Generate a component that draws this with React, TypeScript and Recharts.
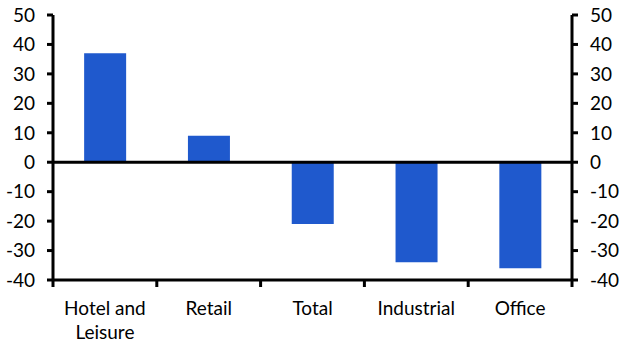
import { Bar, ComposedChart, Line, ReferenceLine, XAxis, YAxis } from "recharts";

const categories = ["Hotel and\nLeisure", "Retail", "Total", "Industrial", "Office"];
const values = [37, 9, -21, -34, -36];
const yTicks = [-40, -30, -20, -10, 0, 10, 20, 30, 40, 50];

const W = 627;
const H = 360;
const LEFT_W = 53;
const RIGHT_W = 55;
const FONT = "Lato, 'Open Sans', sans-serif";
const BAR = "#1f59cd";

const data = categories.map((name, i) => ({ name, value: values[i] }));
const band = (W - LEFT_W - RIGHT_W) / categories.length;

function CategoryTick(props: any) {
  const { x, y, payload, index } = props;
  const lines = String(payload.value).split("\n");
  return (
    <g>
      <line x1={x - band / 2} x2={x - band / 2} y1={y} y2={y + 7} stroke="#000" strokeWidth={3} />
      {index === categories.length - 1 && (
        <line x1={x + band / 2} x2={x + band / 2} y1={y} y2={y + 7} stroke="#000" strokeWidth={3} />
      )}
      <text x={x} y={y + 35} textAnchor="middle" fontSize={19} fontFamily={FONT} fill="#000">
        {lines.map((l, i) => (
          <tspan key={i} x={x} dy={i === 0 ? 0 : 24}>
            {l}
          </tspan>
        ))}
      </text>
    </g>
  );
}

export default function App() {
  const tick = { fontSize: 19, fontFamily: FONT, fill: "#000" };
  return (
    <div style={{ position: "absolute", left: 0, top: 0, width: W, height: H, background: "#fff" }}>
      <ComposedChart
        width={W}
        height={H}
        data={data}
        margin={{ top: 15, right: 0, left: 0, bottom: 0 }}
        barCategoryGap="30%"
      >
        <XAxis
          dataKey="name"
          height={80}
          interval={0}
          tickLine={false}
          tickSize={0}
          tickMargin={0}
          axisLine={{ stroke: "#000", strokeWidth: 3 }}
          tick={<CategoryTick />}
        />
        <YAxis
          yAxisId="l"
          width={LEFT_W}
          domain={[-40, 50]}
          ticks={yTicks}
          interval={0}
          tickSize={6}
          tickMargin={12}
          tick={tick}
          axisLine={{ stroke: "#000", strokeWidth: 3 }}
          tickLine={{ stroke: "#000", strokeWidth: 3 }}
        />
        <YAxis
          yAxisId="r"
          orientation="right"
          width={RIGHT_W}
          domain={[-40, 50]}
          ticks={yTicks}
          interval={0}
          tickSize={6}
          tickMargin={12}
          tick={{ ...tick, textAnchor: "start" }}
          axisLine={{ stroke: "#000", strokeWidth: 3 }}
          tickLine={{ stroke: "#000", strokeWidth: 3 }}
        />
        <ReferenceLine yAxisId="l" y={0} stroke="#000" strokeWidth={3} />
        <Bar yAxisId="l" dataKey="value" fill={BAR} isAnimationActive={false} />
        <Line
          yAxisId="r"
          dataKey="value"
          stroke="none"
          dot={false}
          activeDot={false}
          legendType="none"
          isAnimationActive={false}
        />
      </ComposedChart>
    </div>
  );
}
